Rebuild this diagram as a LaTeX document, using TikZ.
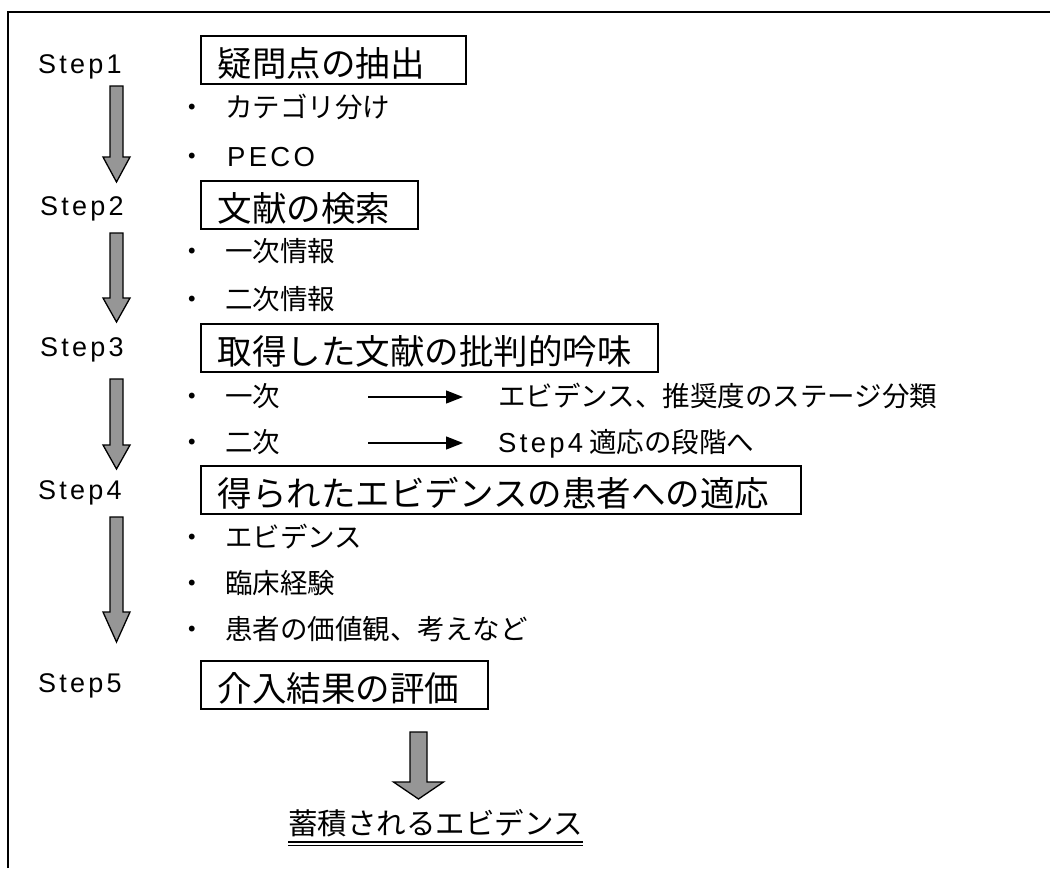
\documentclass[tikz,border=0pt]{standalone}
\usepackage{fontspec}
\setmainfont{Liberation Sans}[LetterSpace=12]
\newfontfamily\jp{Noto Sans CJK JP}
\newcommand\latn{\normalfont}
\usetikzlibrary{arrows.meta}
\definecolor{arrowgray}{RGB}{150,150,150}
\tikzset{
  steplbl/.style={anchor=west, inner sep=0pt, font=\fontsize{27}{31}\selectfont,
    text height=23pt, text depth=4.5pt},
  item/.style={anchor=west, inner sep=0pt, font=\jp\fontsize{27.5}{31}\selectfont,
    text height=23pt, text depth=4.5pt},
  dotlbl/.style={inner sep=0pt, font=\jp\fontsize{27.5}{31}\selectfont,
    text height=23pt, text depth=4.5pt},
  stepbox/.style={draw, line width=1.5pt, anchor=north west, inner xsep=17pt, inner ysep=0pt,
    minimum height=48pt, align=left, font=\jp\fontsize{34.5}{40}\selectfont,
    text height=34pt, text depth=0.5pt},
  garrow/.style={draw=black, line width=1.3pt, fill=arrowgray, line join=miter},
  sarrow/.style={line width=1.3pt, -{Triangle[length=17pt,width=13pt]}},
}
\begin{document}
\begin{tikzpicture}[x=1pt,y=-1pt]
\useasboundingbox (0,0) rectangle (1050,868);
% frame (only top and left edges fall inside the picture)
\draw[line width=2pt] (8,868) -- (8,12) -- (1050,12);

% step labels
\node[steplbl] (s1) at (38,64) {Step1};
\node[steplbl] (s2) at (40,206) {Step2};
\node[steplbl] (s3) at (40,347) {Step3};
\node[steplbl] (s4) at (38,490) {Step4};
\node[steplbl] (s5) at (38,683) {Step5};

% boxes
\node[stepbox, text width=231pt] (b1) at (200,35) {疑問点の抽出};
\node[stepbox, text width=183pt] (b2) at (200,180) {文献の検索};
\node[stepbox, text width=423pt] (b3) at (200,323) {取得した文献の批判的吟味};
\node[stepbox, text width=566pt] (b4) at (200,465) {得られたエビデンスの患者への適応};
\node[stepbox, text width=253pt] (b5) at (200,660) {介入結果の評価};

% step 1 items
\node[dotlbl] (d11) at (192,108) {・};
\node[item] (i11) at (225,108) {カテゴリ分け};
\node[dotlbl] (d12) at (192,157) {・};
\node[item] (i12) at (227,157) {\latn PECO};

% step 2 items
\node[dotlbl] (d21) at (192,252) {・};
\node[item] (i21) at (225,252) {一次情報};
\node[dotlbl] (d22) at (192,300) {・};
\node[item] (i22) at (225,300) {二次情報};

% step 3 items
\node[dotlbl] (d31) at (192,397) {・};
\node[item] (i31) at (225,397) {一次};
\node[item] (e31) at (498,397) {エビデンス、推奨度のステージ分類};
\node[dotlbl] (d32) at (192,443) {・};
\node[item] (i32) at (225,443) {二次};
\node[item] (e32) at (498,443) {{\latn Step4} 適応の段階へ};
\draw[sarrow, shorten <=88pt, shorten >=35pt] (i31.east) -- (e31.west);
\draw[sarrow, shorten <=88pt, shorten >=35pt] (i32.east) -- (e32.west);

% step 4 items
\node[dotlbl] (d41) at (192,538) {・};
\node[item] (i41) at (225,538) {エビデンス};
\node[dotlbl] (d42) at (192,584) {・};
\node[item] (i42) at (225,584) {臨床経験};
\node[dotlbl] (d43) at (192,630) {・};
\node[item] (i43) at (225,630) {患者の価値観、考えなど};

% grey block arrows between steps
\draw[garrow] (110,86) -- (123,86) -- (123,157) -- (130,157) -- (116.5,182) -- (103,157) -- (110,157) -- cycle;
\draw[garrow] (110,233) -- (123,233) -- (123,298) -- (130,298) -- (116.5,322) -- (103,298) -- (110,298) -- cycle;
\draw[garrow] (110,379) -- (123,379) -- (123,445) -- (130,445) -- (116.5,469) -- (103,445) -- (110,445) -- cycle;
\draw[garrow] (110,517) -- (123,517) -- (123,612) -- (130,612) -- (116.5,642) -- (103,612) -- (110,612) -- cycle;

% final arrow and result
\draw[garrow] (410,732) -- (427,732) -- (427,782) -- (443.5,782) -- (418.5,799) -- (393.5,782) -- (410,782) -- cycle;
\node[item, font=\jp\fontsize{29.5}{34}\selectfont] (acc) at (288,825) {蓄積されるエビデンス};
\draw[line width=2.2pt] ([yshift=-3pt]acc.south west) -- ([yshift=-3pt]acc.south east);
\draw[line width=1.1pt] ([yshift=-6.5pt]acc.south west) -- ([yshift=-6.5pt]acc.south east);
\end{tikzpicture}
\end{document}
